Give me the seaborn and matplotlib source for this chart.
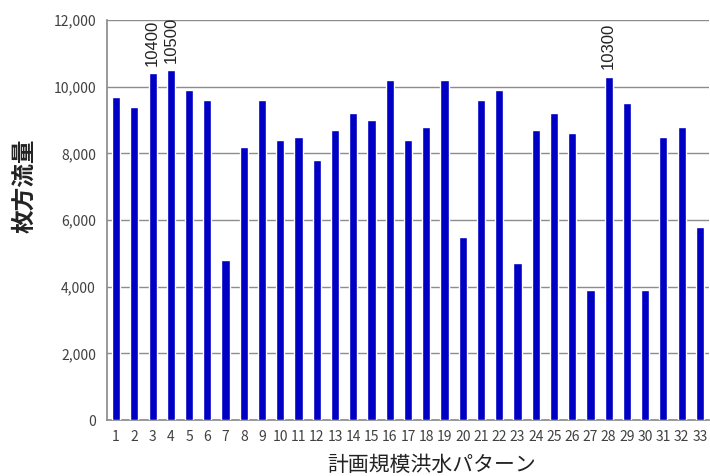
import matplotlib
matplotlib.use("Agg")
import matplotlib.pyplot as plt
import seaborn as sns
import pandas as pd
from matplotlib.ticker import FuncFormatter, FixedLocator

patterns = [str(i) for i in range(1, 34)]
flows = [9700, 9400, 10400, 10500, 9900, 9600, 4800, 8200, 9600, 8400,
         8500, 7800, 8700, 9200, 9000, 10200, 8400, 8800, 10200, 5500,
         9600, 9900, 4700, 8700, 9200, 8600, 3900, 10300, 9500, 3900,
         8500, 8800, 5800]
labeled = {"3": "10400", "4": "10500", "28": "10300"}
y_ticks = [0, 2000, 4000, 6000, 8000, 10000, 12000]

sns.set_theme(style="white")
plt.rcParams['font.family'] = ['Noto Sans CJK JP', 'DejaVu Sans']

df = pd.DataFrame({"pattern": patterns, "flow": flows})

fig = plt.figure(figsize=(7.1, 4.76), dpi=100)
ax = fig.add_axes([107/710, 1-420/476, 602/710, 400/476])

sns.barplot(data=df, x="pattern", y="flow", color="#0000c4", saturation=1,
            width=0.45, ax=ax, zorder=3)

ax.set_ylim(0, 12000)
ax.set_xlim(-0.5, len(patterns) - 0.5)
ax.set_yticks(y_ticks)
ax.yaxis.set_major_formatter(FuncFormatter(lambda v, p: f"{int(v):,}"))
ax.grid(axis="y", color="#8c8c8c", linewidth=1, zorder=0)
ax.set_axisbelow(True)

for s in ["top", "right"]:
    ax.spines[s].set_visible(False)
ax.spines["left"].set_color("#8c8c8c")
ax.spines["bottom"].set_color("#8c8c8c")

ax.tick_params(axis="y", length=0, labelsize=10, labelcolor="#404040", pad=8)
ax.tick_params(axis="x", which="major", length=0, labelsize=10, labelcolor="#404040", pad=7)
ax.xaxis.set_minor_locator(FixedLocator([i - 0.5 for i in range(len(patterns) + 1)]))
ax.tick_params(axis="x", which="minor", length=5, width=1, color="#8c8c8c", direction="out")
ax.tick_params(axis="y", which="minor", length=0)

for i, (p, v) in enumerate(zip(patterns, flows)):
    if p in labeled:
        ax.text(i, v + 220, labeled[p], rotation=90, ha="center", va="bottom",
                fontsize=12, color="#222222", family=['Liberation Sans'])

ax.set_ylabel("枚方流量", fontsize=17, fontweight="bold", color="#222222", labelpad=12)
ax.yaxis.label.set_y(0.585)
ax.set_xlabel("計画規模洪水パターン", fontsize=15, color="#222222", labelpad=2)
ax.xaxis.set_label_coords(0.54, -0.085)

fig.savefig("out.png", dpi=100)
